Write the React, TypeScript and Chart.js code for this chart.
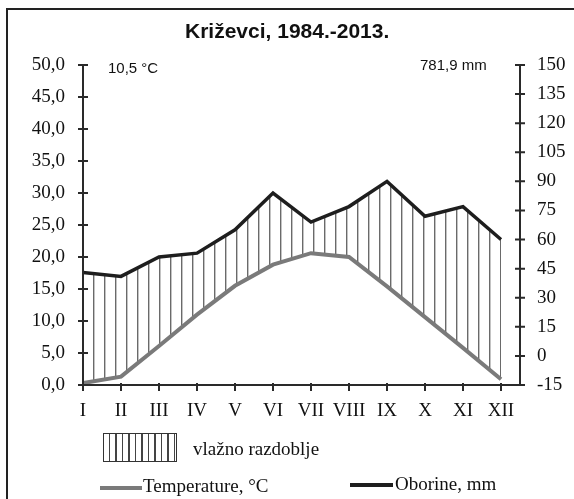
import { useEffect, useRef } from 'react';
import { Chart, registerables } from 'chart.js';

Chart.register(...registerables);

const months = ['I', 'II', 'III', 'IV', 'V', 'VI', 'VII', 'VIII', 'IX', 'X', 'XI', 'XII'];
const temperature = [0.3, 1.3, 6.1, 11.0, 15.5, 18.8, 20.6, 20.0, 15.4, 10.6, 5.8, 0.9];
const precipitation = [43, 41, 51, 53, 65, 84, 69, 77, 90, 72, 77, 60];
const tempAxis = { min: 0, max: 50, step: 5 };
const precAxis = { min: -15, max: 150, step: 15 };

const titleText = 'Križevci, 1984.-2013.';
const meanTempText = '10,5 °C';
const totalPrecText = '781,9 mm';
const legendHumid = 'vlažno razdoblje';
const legendTemp = 'Temperature, °C';
const legendPrec = 'Oborine, mm';

const SERIF = '"Liberation Serif", "Times New Roman", serif';
const SANS = '"Liberation Sans", Arial, sans-serif';
const INK = '#111111';

const monthIndex = (v: number) => {
  const r = Math.round(v);
  return Math.abs(v - r) < 1e-6 && r >= 0 && r < months.length ? r : -1;
};

function makeHatch(ctx: CanvasRenderingContext2D) {
  const c = document.createElement('canvas');
  c.width = 11;
  c.height = 8;
  const g = c.getContext('2d')!;
  g.fillStyle = '#6a6a6a';
  g.fillRect(5, 0, 1.4, 8);
  return ctx.createPattern(c, 'repeat');
}

const axesPlugin = {
  id: 'axesCross',
  afterDatasetsDraw(chart: any) {
    const { ctx, chartArea: a, scales } = chart;
    ctx.save();
    ctx.strokeStyle = '#2a2a2a';
    ctx.lineWidth = 2;
    ctx.beginPath();
    ctx.moveTo(a.left, a.top);
    ctx.lineTo(a.left, a.bottom);
    ctx.lineTo(a.right, a.bottom);
    ctx.moveTo(a.right, a.top);
    ctx.lineTo(a.right, a.bottom);
    for (const t of scales.y.ticks) {
      const p = scales.y.getPixelForValue(t.value);
      ctx.moveTo(a.left - 5, p);
      ctx.lineTo(a.left + 5, p);
    }
    for (const t of scales.y1.ticks) {
      const p = scales.y1.getPixelForValue(t.value);
      ctx.moveTo(a.right - 5, p);
      ctx.lineTo(a.right + 5, p);
    }
    for (const t of scales.x.ticks) {
      if (monthIndex(t.value) < 0) continue;
      const p = scales.x.getPixelForValue(t.value);
      ctx.moveTo(p, a.bottom - 2);
      ctx.lineTo(p, a.bottom + 6);
    }
    ctx.stroke();
    ctx.restore();
  },
};

export default function App() {
  const ref = useRef<HTMLCanvasElement>(null);

  useEffect(() => {
    const canvas = ref.current!;
    const ctx = canvas.getContext('2d')!;
    const hatch = makeHatch(ctx);
    const tickFont = { family: SERIF, size: 19 };
    const chart = new Chart(canvas, {
      type: 'line',
      data: {
        datasets: [
          {
            label: legendTemp,
            data: months.map((_, i) => ({ x: i, y: temperature[i] })),
            yAxisID: 'y',
            borderColor: '#7a7a7a',
            borderWidth: 4,
            pointRadius: 0,
            tension: 0,
            fill: false,
          },
          {
            label: legendPrec,
            data: months.map((_, i) => ({ x: i, y: precipitation[i] })),
            yAxisID: 'y1',
            borderColor: '#1e1e1e',
            borderWidth: 3.5,
            pointRadius: 0,
            tension: 0,
            fill: { target: 0 },
            backgroundColor: hatch as any,
          },
        ],
      },
      options: {
        animation: false,
        responsive: false,
        devicePixelRatio: 1,
        layout: { padding: { top: 65, left: 0, right: 0, bottom: 0 } },
        plugins: {
          legend: { display: false },
          title: { display: false },
          tooltip: { enabled: false },
        },
        scales: {
          x: {
            type: 'linear',
            min: 0,
            max: 11.5,
            afterFit: (s: any) => { s.height = 114; },
            afterBuildTicks: (s: any) => {
              s.ticks = months.map((_, i) => ({ value: i }));
            },
            grid: { display: false, drawTicks: false },
            border: { display: false },
            ticks: {
              stepSize: 1,
              autoSkip: false,
              maxRotation: 0,
              padding: 15,
              font: tickFont,
              color: INK,
              callback: (v: any) => {
                const i = monthIndex(Number(v));
                return i >= 0 ? months[i] : '';
              },
            },
          },
          y: {
            position: 'left',
            min: tempAxis.min,
            max: tempAxis.max,
            afterFit: (s: any) => { s.width = 83; },
            grid: { display: false, drawTicks: false },
            border: { display: false },
            ticks: {
              stepSize: tempAxis.step,
              padding: 18,
              font: tickFont,
              color: INK,
              callback: (v: any) => Number(v).toFixed(1).replace('.', ','),
            },
          },
          y1: {
            position: 'right',
            min: precAxis.min,
            max: precAxis.max,
            afterFit: (s: any) => { s.width = 54; },
            grid: { display: false, drawTicks: false },
            border: { display: false },
            ticks: {
              stepSize: precAxis.step,
              padding: 17,
              font: tickFont,
              color: INK,
              callback: (v: any) => String(v),
            },
          },
        },
      } as any,
      plugins: [axesPlugin],
    });
    return () => chart.destroy();
  }, []);

  const txt = (left: number, top: number, size: number, family: string, text: string, bold = false) => (
    <div
      style={{
        position: 'absolute',
        left,
        top,
        fontFamily: family,
        fontSize: size,
        lineHeight: 1,
        fontWeight: bold ? 700 : 400,
        color: INK,
        whiteSpace: 'nowrap',
      }}
    >
      {text}
    </div>
  );

  return (
    <div
      style={{
        position: 'absolute',
        left: 0,
        top: 0,
        width: 574,
        height: 499,
        overflow: 'hidden',
        background: '#fff',
      }}
    >
      <div
        style={{
          position: 'absolute',
          left: 6,
          top: 8,
          width: 567,
          height: 600,
          borderTop: '2px solid #222',
          borderLeft: '2px solid #222',
        }}
      />
      <canvas ref={ref} width={574} height={499} style={{ position: 'absolute', left: 0, top: 0 }} />
      {txt(185, 19.7, 21, SANS, titleText, true)}
      {txt(108, 60.3, 15, SANS, meanTempText)}
      {txt(420, 57.3, 15, SANS, totalPrecText)}
      <div
        style={{
          position: 'absolute',
          left: 103,
          top: 433,
          width: 72,
          height: 27,
          border: '1.5px solid #333',
          background: 'repeating-linear-gradient(90deg, #fff 0px, #fff 5px, #444 5px, #444 6.5px)',
        }}
      />
      {txt(193, 439, 19, SERIF, legendHumid)}
      <div style={{ position: 'absolute', left: 100, top: 486, width: 42, height: 4, background: '#7a7a7a' }} />
      {txt(143, 475.6, 19, SERIF, legendTemp)}
      <div style={{ position: 'absolute', left: 350, top: 482.5, width: 43, height: 4, background: '#1e1e1e' }} />
      {txt(395, 474, 19, SERIF, legendPrec)}
    </div>
  );
}
